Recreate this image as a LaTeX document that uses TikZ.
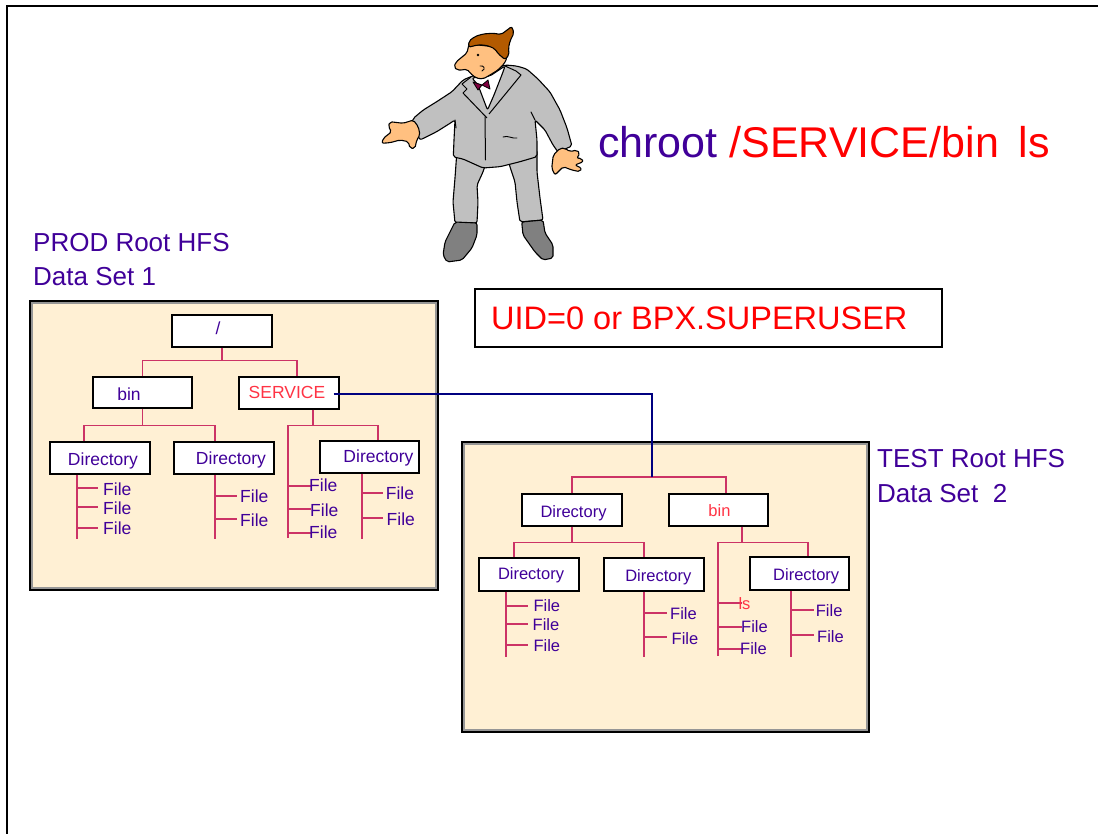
\documentclass[tikz,border=0pt]{standalone}
\usepackage{fontspec}
\setmainfont{Liberation Sans}
\usetikzlibrary{calc}

\definecolor{ink}{RGB}{64,0,153}
\definecolor{hot}{RGB}{255,0,0}
\definecolor{dirred}{RGB}{255,51,68}
\definecolor{branchcol}{RGB}{204,51,102}
\definecolor{cream}{RGB}{255,240,212}
\definecolor{rim}{RGB}{150,150,150}
\definecolor{navyline}{RGB}{0,0,128}
\definecolor{suit}{RGB}{192,192,192}
\definecolor{shoecol}{RGB}{128,128,128}
\definecolor{skin}{RGB}{255,192,128}
\definecolor{haircol}{RGB}{179,90,0}
\definecolor{bowcol}{RGB}{128,0,64}

\tikzset{
  fsbox/.style={draw=black, line width=1.8pt, fill=cream, inner sep=0pt},
  dirbox/.style={draw=black, line width=1.3pt, fill=white, inner sep=0pt,
                 minimum width=100pt, minimum height=32pt},
  branch/.style={draw=branchcol, line width=1.4pt},
  tlab/.style={font=\fontsize{17.5}{20}\selectfont, text=ink, inner sep=0pt, anchor=base},
  flab/.style={font=\fontsize{17.5}{20}\selectfont, text=ink, inner sep=0pt, anchor=base west},
  ttlab/.style={font=\fontsize{16.5}{19}\selectfont, text=ink, inner sep=0pt, anchor=base},
  tflab/.style={font=\fontsize{16.5}{19}\selectfont, text=ink, inner sep=0pt, anchor=base west},
  biglab/.style={font=\fontsize{26}{30}\selectfont, text=ink, inner sep=0pt, anchor=base west},
  outline/.style={draw=black, line width=1.1pt, line join=round, rounded corners=2pt},
  link/.style={draw=navyline, line width=2.5pt}
}

\begin{document}
\begin{tikzpicture}[x=1pt, y=-1pt]
\useasboundingbox (0,0) rectangle (1098,834);

% page frame
\draw[line width=1.4pt] (7,834) -- (7,6) -- (1098,6);

% ---------- the man ----------
% trousers
\fill[suit, outline] (457,150) -- (455,178) -- (453,202) -- (455,223) -- (477,223)
  -- (478,202) -- (477,185) -- (483,172) -- (490,150) -- cycle;
\fill[suit, outline] (506,150) -- (510,167) -- (515,182) -- (517,202) -- (520,222)
  -- (543,220) -- (540,198) -- (537,172) -- (537,150) -- cycle;
% shoes
\fill[shoecol, outline] (455,222) -- (445,242) -- (443,255) -- (447,262) -- (462,260)
  -- (472,248) -- (477,235) -- (477,223) -- cycle;
\fill[shoecol, outline] (521.7,222) -- (523,235) -- (535,252) -- (543,260) -- (553,258)
  -- (553,245) -- (545,233) -- (543,220) -- cycle;
% jacket with both sleeves
\fill[suit, outline] (470,77) -- (463,80) -- (452,91.7) -- (436.7,101.7) -- (423.3,110)
  -- (413.3,118.3) -- (411.7,123.3) -- (420,140) -- (436.7,131.7) -- (450,123.3)
  -- (455,120) -- (454,140) -- (453.3,157) -- (463,159) -- (483,168) -- (500,166.7)
  -- (520,161.7) -- (537,156.7) -- (537,140) -- (535,120) -- (545,130) -- (553,145)
  -- (558,152) -- (572,146) -- (567,128) -- (560,110) -- (550,92) -- (538,79)
  -- (526.7,69) -- (516.7,66) -- (505,65) -- cycle;
% jacket details
\draw[line width=1pt, line cap=round] (485,117) -- (485.5,160);
\draw[line width=0.9pt, line cap=round] (503,137) .. controls (508,135) and (512,139) .. (517,138);
\draw[line width=1pt, line cap=round] (455,120) -- (456,128);
\draw[line width=1pt, line cap=round] (535,120) -- (531,112);
% shirt
\fill[white, outline] (472,78) -- (478,85) -- (487.5,110) -- (494,95) -- (503,72) -- (505,66) -- (490,76) -- cycle;
% lapels
\draw[line width=1pt, line join=round] (471,77) -- (462,84) -- (467,89) -- (463,93) -- (487,118);
\draw[line width=1pt, line join=round] (505,66) -- (516,71) -- (521,75) -- (512,86) -- (489,114);
% bow tie
\fill[bowcol, draw=black, line width=0.8pt, line join=round] (473,82) -- (478,90) -- (482,85)
  -- (488,80) -- (490,89) -- (482,85) -- cycle;
% hands
\fill[skin, outline] (413.3,120) -- (403.3,123.3) -- (390,121.7) -- (388.3,126.7)
  -- (391.7,131.7) -- (383.3,138.3) -- (381.7,143.3) -- (390,142.7) -- (400,140)
  -- (408.3,141.7) -- (410,148.3) -- (415,148.3) -- (416.7,140) -- (420,135)
  -- (418.3,126.7) -- cycle;
\fill[skin, outline] (560,148.3) -- (553.3,155) -- (551.7,168.3) -- (555,175) -- (560,170)
  -- (563.3,166.7) -- (571.7,170) -- (580,171.7) -- (581.7,168.3) -- (575,165)
  -- (583.3,161.7) -- (581.7,158.3) -- (576.7,158.3) -- (580,153.3) -- (576.7,150)
  -- (570,151.7) -- (565,148.3) -- cycle;
% face
\fill[skin, outline] (469,44) -- (467,53) -- (462,57) -- (456,62) -- (454,67) -- (457,70)
  -- (463,70) -- (467,69) -- (470,73) -- (476,78) -- (483,79) -- (490,75) -- (498,70)
  -- (504,64) -- (507,58) -- (506,48) -- cycle;
\fill (478,55) circle (1.4pt);
\draw[line width=0.9pt, line cap=round] (480,66) .. controls (484,65) and (486,69) .. (482,71);
% hair
\fill[haircol, outline] (468.5,47) -- (469,41) -- (475,36.5) -- (483,34) -- (493,33.2)
  -- (501,34.5) -- (506.5,30.5) -- (511.7,26.5) -- (514,33) -- (510,41) -- (508.5,48)
  -- (509,55) -- (505,59.5) -- (502,57) -- (498,53.5) -- (495,49)
  -- (490,46.5) -- (484,45) -- (477,45) -- (472,46.5) -- cycle;

% ---------- command and privilege ----------
\node[font=\fontsize{43}{50}\selectfont, inner sep=0pt, anchor=base west] (cmd) at (598,158)
  {\textcolor{ink}{chroot} \textcolor{hot}{/SERVICE/bin\hspace{0.46em}ls}};
\node[draw=black, line width=1.2pt, minimum width=467pt, minimum height=58pt, inner sep=0pt]
  (uid) at (708.5,318) {};
\node[font=\fontsize{32.5}{36}\selectfont, text=hot, inner sep=0pt, anchor=base west]
  (uidlab) at (491,330) {UID=0 or BPX.SUPERUSER};

% ---------- data set titles ----------
\node[biglab] (prod1) at (33,252) {PROD Root HFS};
\node[biglab] (prod2) at (33,286) {Data Set 1};
\node[biglab] (test1) at (877,467) {TEST Root HFS};
\node[biglab] (test2) at (877,502) {Data Set~~2};

% ---------- PROD file system ----------
\node[fsbox, minimum width=408pt, minimum height=289pt] (prod) at (234,445.5) {};
\draw[rim, line width=2.2pt] ($(prod.north west)+(3,3)$) rectangle ($(prod.south east)+(-3,-3)$);

\node[dirbox] (root) at (222,331) {};
\node[tlab] (rootlab) at (218,335) {/};
\node[dirbox, minimum width=99pt, minimum height=31pt] (bin1) at (142.5,392.5) {};
\node[tlab] (bin1lab) at (129,400) {bin};
\node[dirbox] (sv) at (289,393) {};
\node[tlab, text=dirred] (svlab) at (287,399) {SERVICE};
\node[dirbox] (d1) at (100,458) {};
\node[tlab] (d1lab) at (103,465.7) {Directory};
\node[dirbox] (d2) at (224,458) {};
\node[tlab] (d2lab) at (231,464) {Directory};
\node[dirbox, minimum width=99pt] (d3) at (369.5,457) {};
\node[tlab] (d3lab) at (378.5,462.7) {Directory};

\draw[branch] (root.south) -- ++(0,13) coordinate (rj);
\draw[branch] (bin1.north) |- (rj) -| ($(sv.north)+(8,0)$);
\draw[branch] (bin1.south) -- ++(0,17) coordinate (bj);
\draw[branch] ($(d1.north)+(-16,0)$) |- (bj) -| ($(d2.north)+(-9,0)$);
\draw[branch] ($(sv.south)+(24,0)$) -- ++(0,16) coordinate (sj);
\draw[branch] (288,538) |- (sj) -| ($(d3.north)+(8.5,0)$);

% file lists under the PROD directories
\draw[branch] ($(d1.south)+(-23,0)$) -- ++(0,64);
\foreach \y in {488,507,528} \draw[branch] (77,\y) -- (98,\y);
\node[flab] (f11) at (103,495) {File};
\node[flab] (f12) at (103,514) {File};
\node[flab] (f13) at (103,534) {File};

\draw[branch] ($(d2.south)+(-9,0)$) -- ++(0,64);
\foreach \y in {496,519} \draw[branch] (215,\y) -- (237,\y);
\node[flab] (f21) at (240,502.3) {File};
\node[flab] (f22) at (240,526.7) {File};

\foreach \y in {486,509,533} \draw[branch] (288,\y) -- (311,\y);
\node[flab] (f31) at (309,491.7) {File};
\node[flab] (f32) at (310,516) {File};
\node[flab] (f33) at (309,538.3) {File};

\draw[branch] ($(d3.south)+(-7.5,0)$) -- ++(0,65);
\foreach \y in {493,518} \draw[branch] (362,\y) -- (383,\y);
\node[flab] (f41) at (385.7,499) {File};
\node[flab] (f42) at (386.5,525.7) {File};

% ---------- TEST file system ----------
\node[fsbox, minimum width=407pt, minimum height=290pt] (test) at (665.5,587) {};
\draw[rim, line width=2.2pt] ($(test.north west)+(3,3)$) rectangle ($(test.south east)+(-3,-3)$);

\coordinate (tj) at (652,477);
\node[dirbox] (td) at (572,510) {};
\node[ttlab] (tdlab) at (573.5,517.3) {Directory};
\node[dirbox, minimum width=99pt] (tb) at (718.5,510) {};
\node[ttlab, text=dirred] (tblab) at (719.5,516) {bin};
\node[dirbox, minimum height=33pt] (tdA) at (529,574.5) {};
\node[ttlab] (tdAlab) at (531,579) {Directory};
\node[dirbox, minimum height=33pt] (tdB) at (654,574.5) {};
\node[ttlab] (tdBlab) at (658.3,581) {Directory};
\node[dirbox, minimum width=99pt, minimum height=33pt] (tdC) at (799.5,573.5) {};
\node[ttlab] (tdClab) at (806.2,580) {Directory};

\draw[branch] (td.north) |- (tj) -| ($(tb.north)+(7.5,0)$);
\draw[branch] (td.south) -- ++(0,16) coordinate (tdj);
\draw[branch] ($(tdA.north)+(-15,0)$) |- (tdj) -| ($(tdB.north)+(-10,0)$);
\draw[branch] ($(tb.south)+(23.5,0)$) -- ++(0,16) coordinate (tbj);
\draw[branch] (718,656) |- (tbj) -| ($(tdC.north)+(8.5,0)$);

% file lists under the TEST directories
\draw[branch] ($(tdA.south)+(-23,0)$) -- ++(0,65);
\foreach \y in {606,624,645} \draw[branch] (506,\y) -- (528,\y);
\node[tflab] (g11) at (533.3,611.7) {File};
\node[tflab] (g12) at (532.5,630) {File};
\node[tflab] (g13) at (533.3,651) {File};

\draw[branch] ($(tdB.south)+(-10,0)$) -- ++(0,65);
\foreach \y in {613,637} \draw[branch] (644,\y) -- (667,\y);
\node[tflab] (g21) at (670,619) {File};
\node[tflab] (g22) at (671.5,644) {File};

\foreach \y in {603,627,649} \draw[branch] (718,\y) -- (742,\y);
\node[tflab, text=dirred] (g31) at (738.3,609) {ls};
\node[tflab] (g32) at (741,632.7) {File};
\node[tflab] (g33) at (740,654.3) {File};

\draw[branch] ($(tdC.south)+(-8.5,0)$) -- ++(0,66);
\foreach \y in {610,635} \draw[branch] (791,\y) -- (814,\y);
\node[tflab] (g41) at (815.7,616) {File};
\node[tflab] (g42) at (817,642.3) {File};

% ---------- mount link from SERVICE to the TEST root ----------
\draw[link] ($(sv.east)+(-6,1)$) -| (tj);

\end{tikzpicture}
\end{document}
